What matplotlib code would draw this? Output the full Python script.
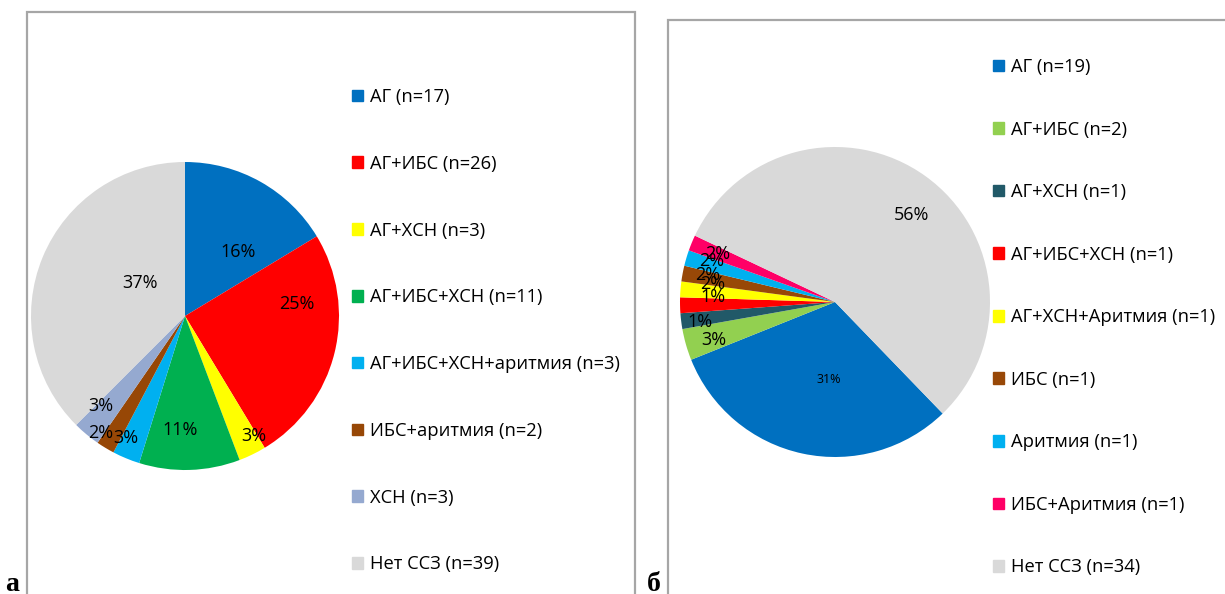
import numpy as np
import matplotlib
matplotlib.use('Agg')
from matplotlib import pyplot as plt
from matplotlib.patches import Rectangle, Patch

plt.rcParams['font.family'] = ['Open Sans', 'DejaVu Sans']

W, H = 1225, 594

# panel a
labels_a = ['АГ (n=17)', 'АГ+ИБС (n=26)', 'АГ+ХСН (n=3)', 'АГ+ИБС+ХСН (n=11)',
            'АГ+ИБС+ХСН+аритмия (n=3)', 'ИБС+аритмия (n=2)', 'ХСН (n=3)', 'Нет ССЗ (n=39)']
counts_a = [17, 26, 3, 11, 3, 2, 3, 39]
pct_a = ['16%', '25%', '3%', '11%', '3%', '2%', '3%', '37%']
colors_a = ['#0070C0', '#FF0000', '#FFFF00', '#00B050', '#00B0F0', '#974706', '#95A9D0', '#D9D9D9']

# panel b
labels_b = ['АГ (n=19)', 'АГ+ИБС (n=2)', 'АГ+ХСН (n=1)', 'АГ+ИБС+ХСН (n=1)',
            'АГ+ХСН+Аритмия (n=1)', 'ИБС (n=1)', 'Аритмия (n=1)', 'ИБС+Аритмия (n=1)',
            'Нет ССЗ (n=34)']
counts_b = [19, 2, 1, 1, 1, 1, 1, 1, 34]
pct_b = ['31%', '3%', '1%', '1%', '2%', '2%', '2%', '2%', '56%']
colors_b = ['#0070C0', '#92D050', '#215968', '#FF0000', '#FFFF00', '#984807', '#00B0F0', '#FF0066', '#D9D9D9']

# label placement (angle nudge in deg, radius fraction), Excel "best fit" look
lab_a = [(-10, .54), (20, .73), (4, .90), (-4, .74), (-3.5, .88), (-4.6, .94), (-3, .80), (-14, .36)]
lab_b = [(7.6, .50), (1.2, .82), (1.2, .88), (-3.4, .79), (-3.7, .80), (-1.6, .84), (-1.9, .84), (0, .82), (-5.6, .75)]


def px_axes(fig, cx, cy, r):
    return fig.add_axes([(cx - r) / W, 1 - (cy + r) / H, 2 * r / W, 2 * r / H])


def draw_pie(ax, counts, colors, pcts, lab, start, small=None):
    wedges, _ = ax.pie(counts, colors=colors, startangle=start, counterclock=False,
                       radius=1, wedgeprops=dict(linewidth=0))
    for i, w in enumerate(wedges):
        mid = (w.theta1 + w.theta2) / 2 + lab[i][0]
        r = lab[i][1]
        fs = 13
        if small is not None and i in small:
            fs = 9
        ax.text(r * np.cos(np.radians(mid)), r * np.sin(np.radians(mid)), pcts[i],
                ha='center', va='center', fontsize=fs, color='black')
    ax.set_xlim(-1, 1)
    ax.set_ylim(-1, 1)
    ax.axis('off')
    return wedges


fig = plt.figure(figsize=(W / 100, H / 100), dpi=100)

# panel frames
for x0, y0, x1 in [(27, 12, 635), (668, 20, 1240)]:
    fig.patches.append(Rectangle((x0 / W, -0.1), (x1 - x0) / W, 1.1 - y0 / H,
                                 transform=fig.transFigure, fill=False,
                                 edgecolor='#A6A6A6', linewidth=1.6))

ax1 = px_axes(fig, 185, 316, 154)
wa = draw_pie(ax1, counts_a, colors_a, pct_a, lab_a, 90)

ax2 = px_axes(fig, 835, 302, 155)
wb = draw_pie(ax2, counts_b, colors_b, pct_b, lab_b, -46, small=[0])

fig.legend([Patch(color=c) for c in colors_a], labels_a, loc='upper left',
           bbox_to_anchor=(352 / W, 1 - 88 / H), frameon=False, fontsize=13.2,
           handlelength=0.6, handleheight=0.6, handletextpad=0.38,
           labelspacing=2.66, borderpad=0, borderaxespad=0)

fig.legend([Patch(color=c) for c in colors_b], labels_b, loc='upper left',
           bbox_to_anchor=(993 / W, 1 - 58 / H), frameon=False, fontsize=13.2,
           handlelength=0.6, handleheight=0.6, handletextpad=0.38,
           labelspacing=2.43, borderpad=0, borderaxespad=0)

fig.text(5 / W, 1 - 591 / H, 'а', fontsize=20, fontweight='bold',
         family='Liberation Serif', ha='left', va='baseline')
fig.text(647 / W, 1 - 591 / H, 'б', fontsize=20, fontweight='bold',
         family='Liberation Serif', ha='left', va='baseline')

fig.savefig('out.png', dpi=100)
